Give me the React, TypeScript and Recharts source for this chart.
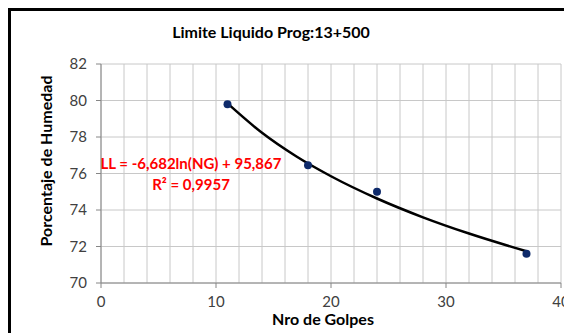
import React from "react";
import {
    ComposedChart,
    XAxis,
    YAxis,
    CartesianGrid,
    Scatter,
    Line,
} from "recharts";

// Ensayo: número de golpes vs humedad
const golpes = [11, 18, 24, 37];
const humedad = [79.8, 76.45, 75.0, 71.6];

// Curva de tendencia
const tendX = [11, 14, 17, 20, 24, 28, 32, 37];
const tendY = [79.84, 78.23, 76.93, 75.85, 74.63, 73.6, 72.71, 71.74];

const xTicks = [0, 10, 20, 30, 40];
const gridTicks = [0, 2, 4, 6, 8, 10, 12, 14, 16, 18, 20, 22, 24, 26, 28, 30, 32, 34, 36, 38, 40];
const yTicks = [70, 72, 74, 76, 78, 80, 82];

const puntos = golpes.map((g, i) => ({ x: g, y: humedad[i] }));
const tendencia = tendX.map((g, i) => ({ x: g, y: tendY[i] }));

const FONT = "Lato, 'Open Sans', sans-serif";

// líneas verticales de la grilla cada 2 golpes, usando la escala del eje
const verticales = (props: any) => {
    const { xAxis, offset } = props;
    if (xAxis && typeof xAxis.scale === "function") {
        return gridTicks.map((t) => xAxis.scale(t));
    }
    return gridTicks.map((t) => offset.left + (t / 40) * offset.width);
};

export default function App() {
    return (
        <div
            style={{
                position: "relative",
                width: 564,
                height: 325,
                boxSizing: "border-box",
                borderTop: "3px solid #000",
                borderLeft: "3px solid #000",
                background: "#fff",
                fontFamily: FONT,
            }}
        >
            <div style={{ position: "absolute", left: -3, top: -3 }}>
                <ComposedChart
                    width={564}
                    height={325}
                    margin={{ top: 56, right: 11, bottom: 20, left: 53 }}
                >
                    <CartesianGrid
                        stroke="#c8c8c8"
                        strokeWidth={1}
                        verticalCoordinatesGenerator={verticales}
                    />
                    <XAxis
                        type="number"
                        dataKey="x"
                        domain={[0, 40]}
                        ticks={xTicks}
                        height={30}
                        tickSize={5}
                        tickMargin={8}
                        stroke="#868686"
                        tick={{ fill: "#404040", fontSize: 15, fontFamily: FONT }}
                    />
                    <YAxis
                        type="number"
                        domain={[70, 82]}
                        ticks={yTicks}
                        width={40}
                        tickSize={5}
                        tickMargin={9}
                        stroke="#868686"
                        tick={{ fill: "#404040", fontSize: 15, fontFamily: FONT }}
                    />
                    <Line
                        data={tendencia}
                        dataKey="y"
                        type="monotone"
                        stroke="#000"
                        strokeWidth={2.5}
                        dot={false}
                        isAnimationActive={false}
                    />
                    <Scatter
                        data={puntos}
                        dataKey="y"
                        fill="#0e2a6a"
                        shape={(p: any) => (
                            <circle cx={p.cx} cy={p.cy} r={4} fill="#0e2a6a" />
                        )}
                        isAnimationActive={false}
                    />
                </ComposedChart>
            </div>
            <div
                style={{
                    position: "absolute",
                    left: 150,
                    top: 11,
                    width: 220,
                    textAlign: "center",
                    fontWeight: 700,
                    fontSize: 16,
                    color: "#000",
                }}
            >
                Limite Liquido Prog:13+500
            </div>
            <div
                style={{
                    position: "absolute",
                    left: 46 - 100 - 11,
                    top: 161 - 11 - 10,
                    width: 200,
                    textAlign: "center",
                    transform: "rotate(-90deg)",
                    fontWeight: 700,
                    fontSize: 16,
                    lineHeight: "20px",
                    color: "#000",
                }}
            >
                Porcentaje de Humedad
            </div>
            <div
                style={{
                    position: "absolute",
                    left: 323 - 100 - 11,
                    top: 319 - 11 - 10,
                    width: 200,
                    textAlign: "center",
                    fontWeight: 700,
                    fontSize: 16,
                    lineHeight: "20px",
                    color: "#000",
                }}
            >
                Nro de Golpes
            </div>
            <div
                style={{
                    position: "absolute",
                    left: 191 - 120 - 11,
                    top: 163 - 11 - 10,
                    width: 240,
                    textAlign: "center",
                    fontWeight: 700,
                    fontSize: 15,
                    lineHeight: "21px",
                    color: "#ff0000",
                }}
            >
                LL = -6,682ln(NG) + 95,867
                <br />
                R² = 0,9957
            </div>
        </div>
    );
}
